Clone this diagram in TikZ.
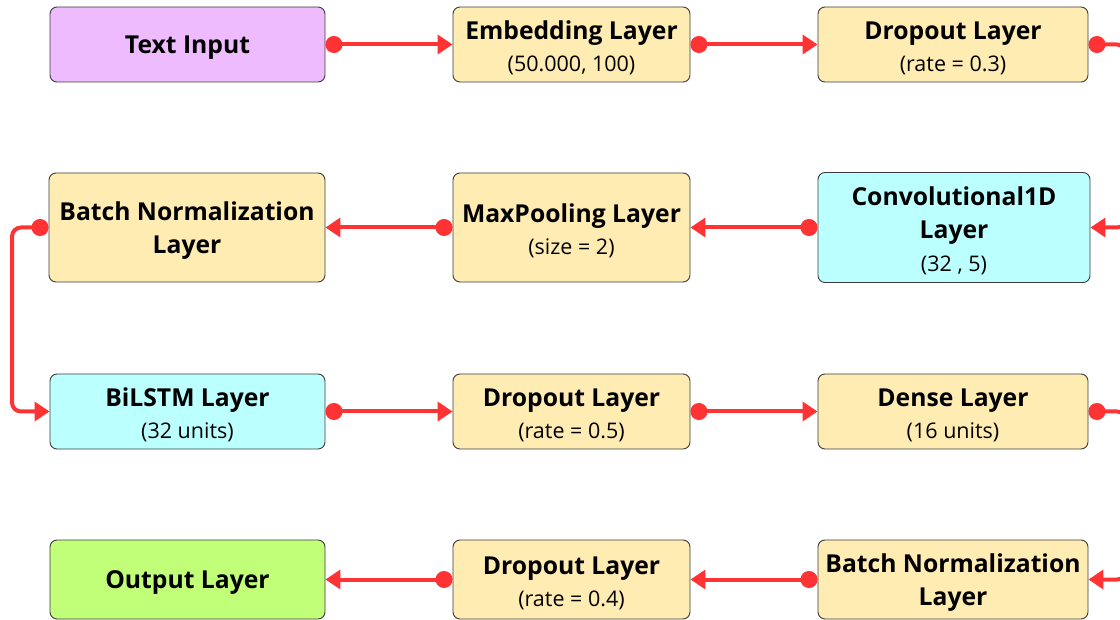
\documentclass[tikz,border=0pt]{standalone}
\usepackage{fontspec}
\setmainfont{Open Sans}
\usetikzlibrary{arrows.meta}
\definecolor{link}{RGB}{255,51,51}
\definecolor{violetbox}{RGB}{239,187,255}
\definecolor{sandbox}{RGB}{255,236,179}
\definecolor{cyanbox}{RGB}{187,255,255}
\definecolor{limebox}{RGB}{192,255,119}
\definecolor{rim}{RGB}{60,60,60}
\newcommand\detail[1]{{\fontsize{21.5}{33}\mdseries #1}}
% taller first line, so the text sits a little lower in its box
\newcommand\lift{\rule{0pt}{24.5pt}}
\tikzset{
  layer/.style={draw=rim, line width=0.9pt, rounded corners=7pt, align=center,
    inner sep=0pt, text=black, font=\fontsize{24.7}{33}\selectfont\bfseries},
  flow/.style={draw=link, line width=4pt,
    {Circle[length=17pt]}-{Triangle[length=15pt,width=19pt]}},
}
\begin{document}
\begin{tikzpicture}[x=1pt,y=-1pt]
\fill[white] (0,0) rectangle (1120,620);
\useasboundingbox (0,0) rectangle (1120,620);
\clip (0,0) rectangle (1120,620);

% row 1
\node[layer, fill=violetbox, minimum width=275pt, minimum height=75pt] (txt) at (187.5,44.5) {\lift Text Input};
\node[layer, fill=sandbox, minimum width=237pt, minimum height=75pt] (emb) at (571.5,44.5) {\lift Embedding Layer\\[-1pt]\detail{(50.000, 100)}};
\node[layer, fill=sandbox, minimum width=270pt, minimum height=75pt] (dropa) at (953,44.5) {\lift Dropout Layer\\[-1pt]\detail{(rate = 0.3)}};

% row 2
\node[layer, fill=sandbox, minimum width=276pt, minimum height=109pt] (bna) at (187,227.5) {\lift Batch Normalization\\Layer};
\node[layer, fill=sandbox, minimum width=237pt, minimum height=109pt] (pool) at (571.5,227.5) {\lift MaxPooling Layer\\[-1pt]\detail{(size = 2)}};
\node[layer, fill=cyanbox, minimum width=272pt, minimum height=110pt] (conv) at (954,227.5) {\lift Convolutional1D\\Layer\\\detail{(32 , 5)}};

% row 3
\node[layer, fill=cyanbox, minimum width=275pt, minimum height=75pt] (lstm) at (187.5,411.5) {\lift BiLSTM Layer\\[-1pt]\detail{(32 units)}};
\node[layer, fill=sandbox, minimum width=237pt, minimum height=75pt] (dropb) at (571.5,411.5) {\lift Dropout Layer\\[-1pt]\detail{(rate = 0.5)}};
\node[layer, fill=sandbox, minimum width=270pt, minimum height=75pt] (dense) at (953,411.5) {\lift Dense Layer\\[-1pt]\detail{(16 units)}};

% row 4
\node[layer, fill=limebox, minimum width=275pt, minimum height=79pt] (out) at (187.5,579.5) {\lift Output Layer};
\node[layer, fill=sandbox, minimum width=237pt, minimum height=79pt] (dropc) at (571.5,579.5) {\lift Dropout Layer\\[-1pt]\detail{(rate = 0.4)}};
\node[layer, fill=sandbox, minimum width=270pt, minimum height=79pt] (bnb) at (953,579.5) {\lift Batch Normalization\\Layer};

% turning columns for the loops
\coordinate (lx) at (12,0);
\coordinate (rx) at (1126,0);

% connectors
\draw[flow] (txt.east) -- (emb.west);
\draw[flow] (emb.east) -- (dropa.west);
\draw[flow, rounded corners=9pt] (dropa.east) -- (dropa.east -| rx) |- (conv.east);
\draw[flow] (conv.west) -- (pool.east);
\draw[flow] (pool.west) -- (bna.east);
\draw[flow, rounded corners=9pt] (bna.west) -- (bna.west -| lx) |- (lstm.west);
\draw[flow] (lstm.east) -- (dropb.west);
\draw[flow] (dropb.east) -- (dense.west);
\draw[flow, rounded corners=9pt] (dense.east) -- (dense.east -| rx) |- (bnb.east);
\draw[flow] (bnb.west) -- (dropc.east);
\draw[flow] (dropc.west) -- (out.east);
\end{tikzpicture}
\end{document}
